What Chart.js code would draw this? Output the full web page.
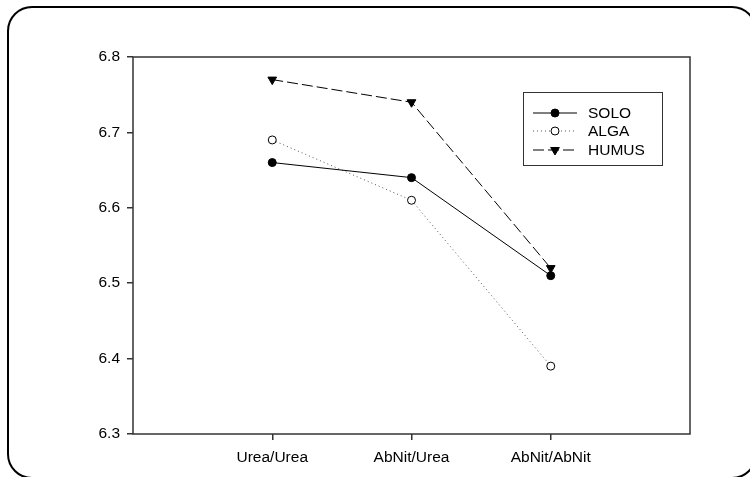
<!DOCTYPE html>
<html>
<head>
<meta charset="utf-8">
<script src="https://cdn.jsdelivr.net/npm/chart.js@4.4.1/dist/chart.umd.min.js"></script>
<style>
   html, body { margin: 0; padding: 0; background: #fff; overflow: hidden; }
   #wrap { width: 750px; height: 477px; }
</style>
</head>
<body>
<div id="wrap"><canvas id="myChart" width="750" height="477"></canvas></div>
<script>
// data
const categories = ['Urea/Urea', 'AbNit/Urea', 'AbNit/AbNit'];
const soloValues = [6.66, 6.64, 6.51];
const algaValues = [6.69, 6.61, 6.39];
const humusValues = [6.77, 6.74, 6.52];
const yTicks = [6.3, 6.4, 6.5, 6.6, 6.7, 6.8];
const seriesNames = ['SOLO', 'ALGA', 'HUMUS'];

const FONT = "'Liberation Sans', Arial, sans-serif";

function toPoints(values) {
   return values.map((v, i) => ({ x: i + 1, y: v }));
}

// outer rounded frame + plot box + legend with line samples
const framePlugin = {
   id: 'frame',
   beforeDraw(chart) {
      const ctx = chart.ctx;
      ctx.save();
      ctx.fillStyle = '#fff';
      ctx.fillRect(0, 0, chart.width, chart.height);
      ctx.beginPath();
      ctx.roundRect(8, 7, 748, 471, 24);
      ctx.lineWidth = 2;
      ctx.strokeStyle = '#000';
      ctx.stroke();
      ctx.restore();
   },
   afterDraw(chart) {
      const ctx = chart.ctx, a = chart.chartArea;
      ctx.save();
      ctx.lineWidth = 1.5;
      ctx.strokeStyle = '#333';
      ctx.strokeRect(a.left, a.top, a.right - a.left, a.bottom - a.top);

      // legend
      const bx = 523, by = 92, bw = 139, bh = 73;
      ctx.lineWidth = 1;
      ctx.strokeStyle = '#333';
      ctx.strokeRect(bx + 0.5, by + 0.5, bw, bh);
      const rows = [113, 131, 150];
      chart.data.datasets.forEach((ds, i) => {
         const y = rows[i];
         ctx.save();
         ctx.beginPath();
         ctx.setLineDash(ds.borderDash || []);
         ctx.strokeStyle = ds.borderColor;
         ctx.lineWidth = ds.borderWidth;
         ctx.moveTo(533, y);
         ctx.lineTo(577, y);
         ctx.stroke();
         ctx.setLineDash([]);
         ctx.fillStyle = ds.pointBackgroundColor;
         ctx.strokeStyle = ds.pointBorderColor;
         ctx.lineWidth = ds.pointBorderWidth;
         ctx.beginPath();
         Chart.helpers.drawPoint(ctx, {
            pointStyle: ds.pointStyle,
            radius: ds.pointRadius,
            rotation: ds.pointRotation || 0,
            borderWidth: ds.pointBorderWidth
         }, 555, y);
         ctx.restore();
         ctx.fillStyle = '#000';
         ctx.font = '15.5px ' + FONT;
         ctx.textBaseline = 'middle';
         ctx.textAlign = 'left';
         ctx.fillText(ds.label, 588, y + 1);
      });
      ctx.restore();
   }
};

const ctx = document.getElementById('myChart').getContext('2d');
new Chart(ctx, {
   type: 'line',
   data: {
      datasets: [{
         label: seriesNames[0],
         data: toPoints(soloValues),
         borderColor: '#000',
         borderWidth: 1,
         pointStyle: 'circle',
         pointRadius: 4,
         pointBackgroundColor: '#000',
         pointBorderColor: '#000',
         pointBorderWidth: 1
      }, {
         label: seriesNames[1],
         data: toPoints(algaValues),
         borderColor: '#555',
         borderWidth: 1,
         borderDash: [1, 3],
         pointStyle: 'circle',
         pointRadius: 4,
         pointBackgroundColor: '#fff',
         pointBorderColor: '#000',
         pointBorderWidth: 1
      }, {
         label: seriesNames[2],
         data: toPoints(humusValues),
         borderColor: '#000',
         borderWidth: 1,
         borderDash: [11, 4],
         pointStyle: 'triangle',
         pointRotation: 180,
         pointRadius: 5,
         pointBackgroundColor: '#000',
         pointBorderColor: '#000',
         pointBorderWidth: 1
      }]
   },
   options: {
      responsive: false,
      animation: false,
      layout: { padding: { left: 0, top: 57, right: 60, bottom: 0 } },
      plugins: {
         legend: { display: false },
         tooltip: { enabled: false }
      },
      scales: {
         x: {
            type: 'linear',
            min: 0,
            max: categories.length + 1,
            afterBuildTicks: s => { s.ticks = categories.map((c, i) => ({ value: i + 1 })); },
            afterFit: s => { s.height = 43; },
            ticks: {
               callback: v => categories[v - 1] || '',
               color: '#000',
               font: { family: FONT, size: 15.5 },
               padding: 8,
               maxRotation: 0,
               autoSkip: false
            },
            grid: { drawOnChartArea: false, drawTicks: true, tickLength: 6, color: '#333', lineWidth: 1.5 },
            border: { display: false }
         },
         y: {
            min: yTicks[0],
            max: yTicks[yTicks.length - 1],
            afterBuildTicks: s => { s.ticks = yTicks.map(v => ({ value: v })); },
            afterFit: s => { s.width = 133; },
            ticks: {
               callback: v => v.toFixed(1),
               color: '#000',
               font: { family: FONT, size: 15.5 },
               padding: 7
            },
            grid: { drawOnChartArea: false, drawTicks: true, tickLength: 6, color: '#333', lineWidth: 1.5 },
            border: { display: false }
         }
      }
   },
   plugins: [framePlugin]
});
</script>
</body>
</html>
